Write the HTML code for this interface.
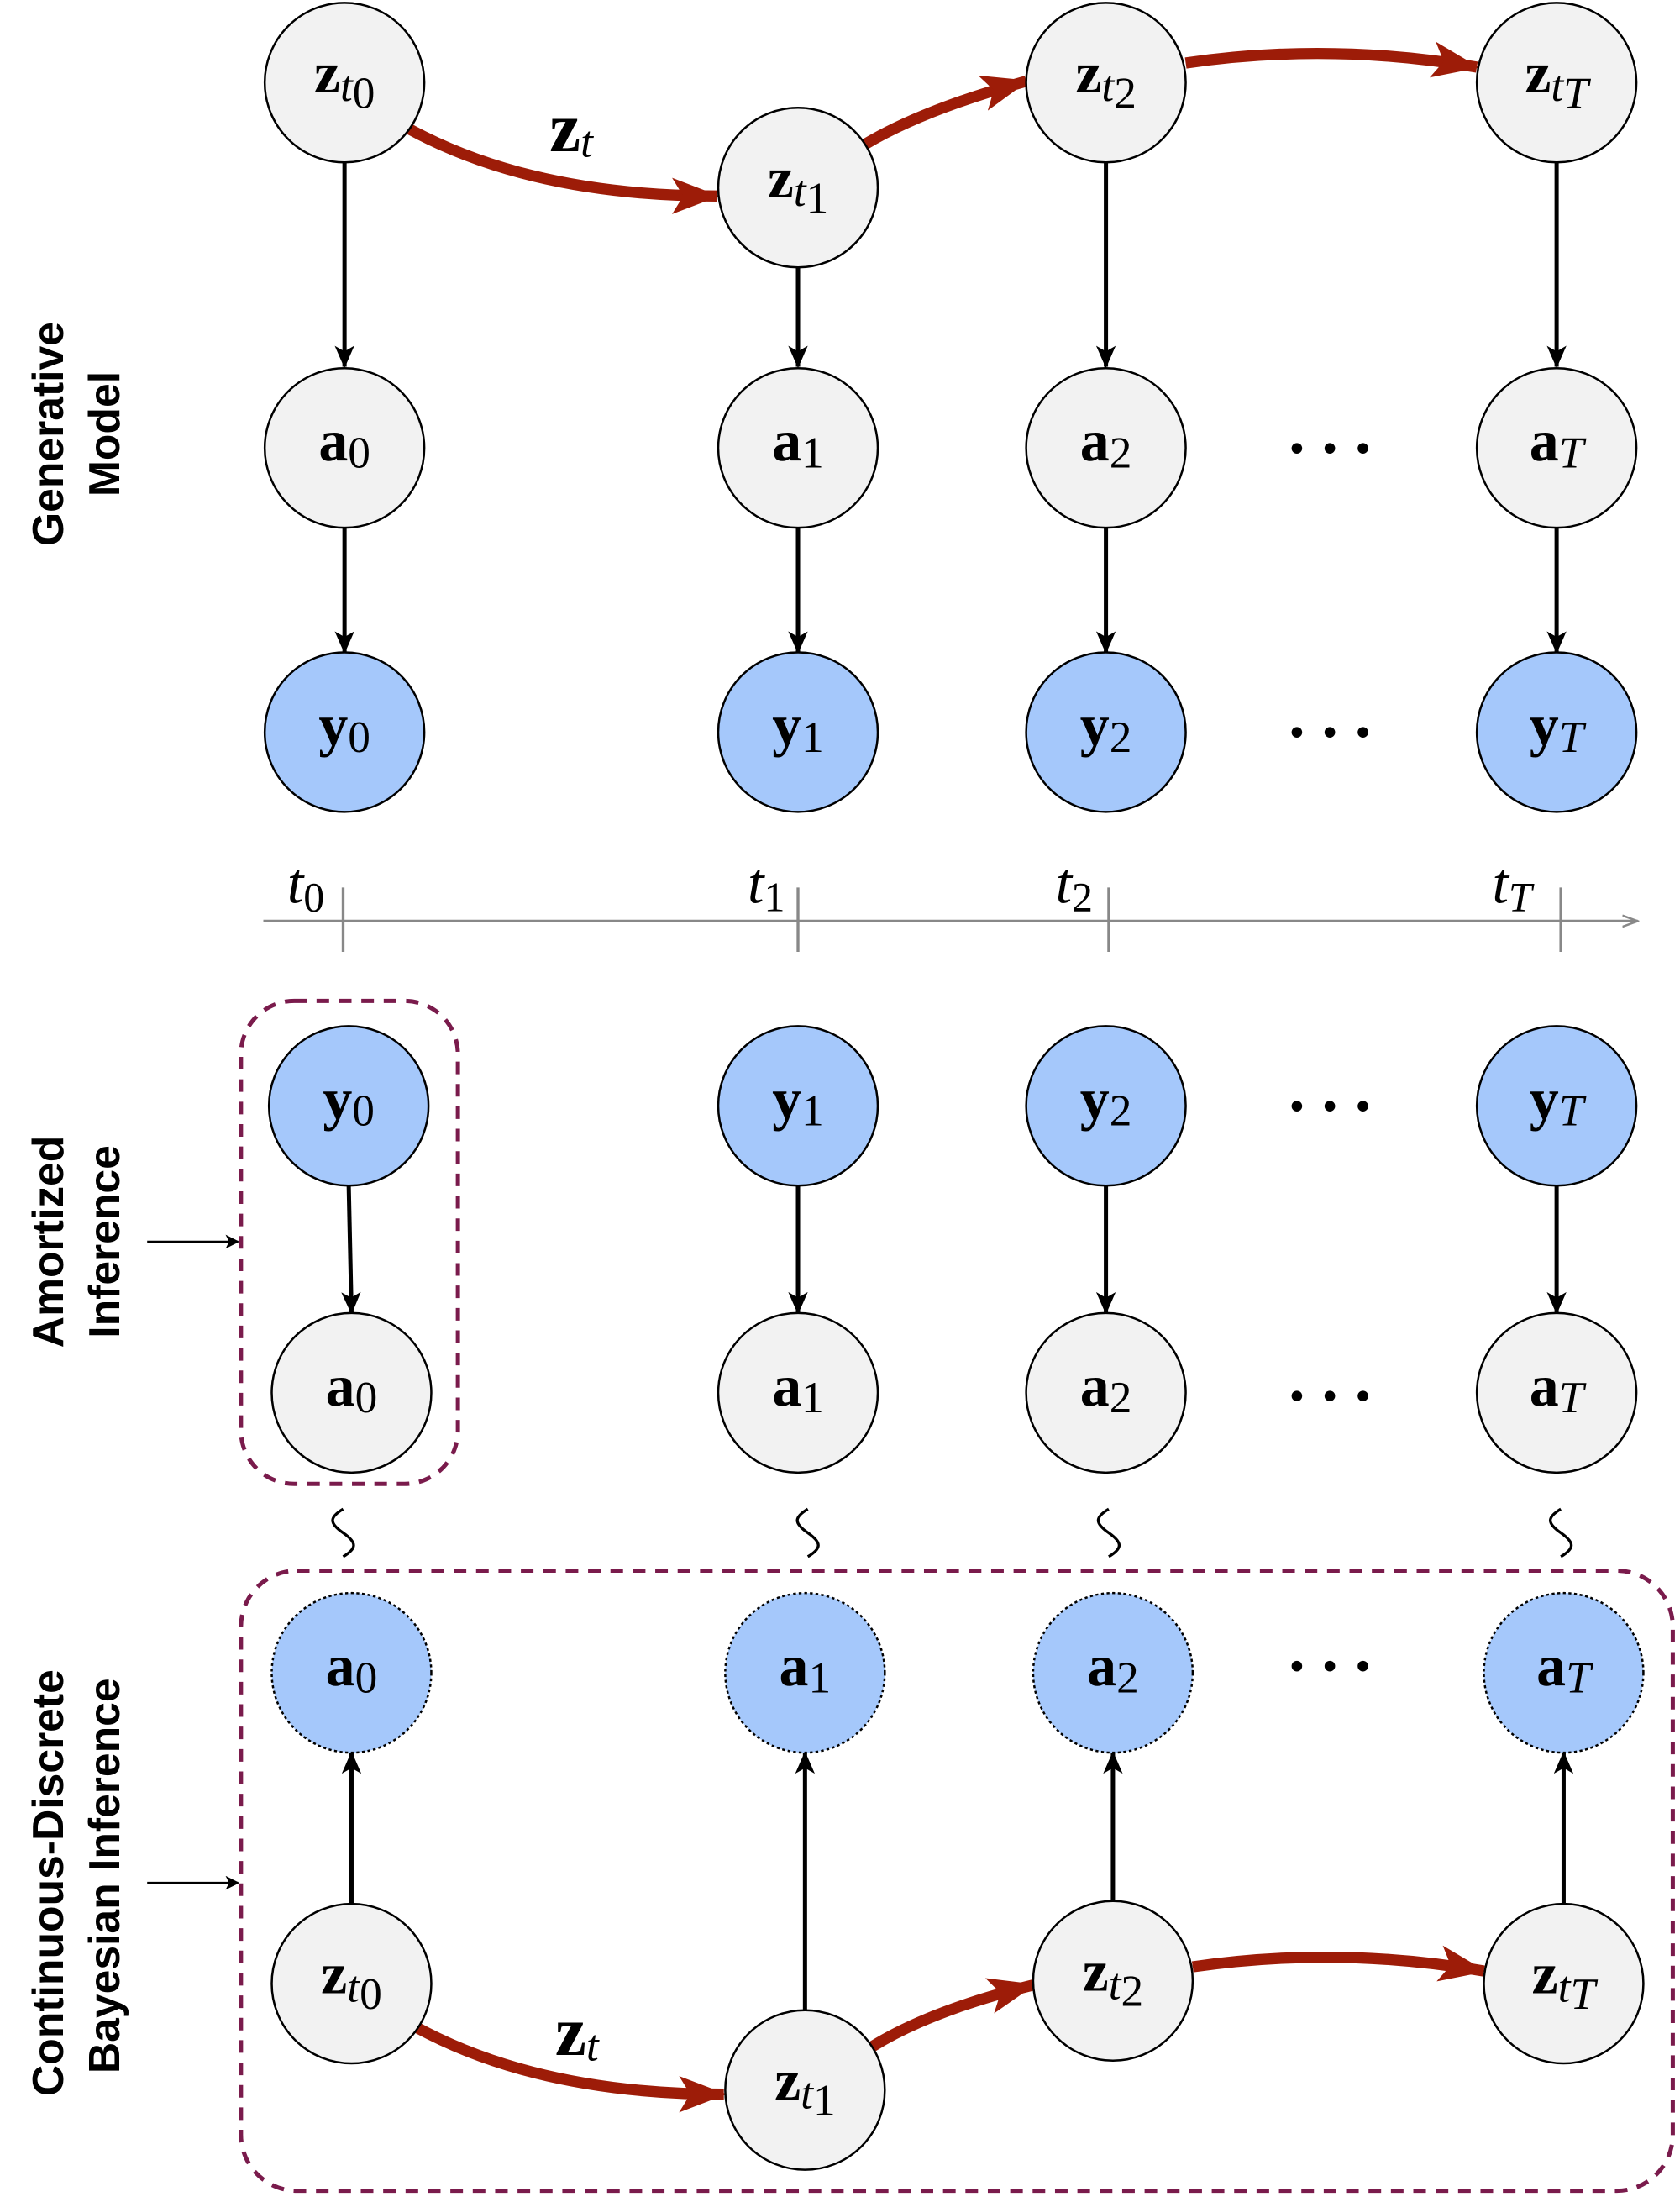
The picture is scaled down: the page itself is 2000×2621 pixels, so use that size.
<!DOCTYPE html>
<html><head><meta charset="utf-8"><style>
html,body{margin:0;padding:0;background:#fff}
svg{display:block}
.m{font-family:"Liberation Serif",serif;font-weight:bold;font-size:42px}
.s{font-family:"Liberation Serif",serif;font-style:italic;font-weight:normal;font-size:32px}
.n{font-family:"Liberation Serif",serif;font-style:normal;font-weight:normal;font-size:32px}
.lab{font-family:"Liberation Sans",sans-serif;font-size:31px;font-weight:bold}
</style></head><body>
<svg width="2000" height="2621" viewBox="0 0 1200 1573" xmlns="http://www.w3.org/2000/svg">
<defs>
<marker id="ab" markerWidth="10" markerHeight="10" refX="9" refY="5" orient="auto" markerUnits="userSpaceOnUse" viewBox="0 0 10 10"><path d="M0,0 L10,5 L0,10 L2.5,5 Z" fill="#000"/></marker>
<marker id="ar" markerWidth="34" markerHeight="26" refX="32" refY="13" orient="auto" markerUnits="userSpaceOnUse"><path d="M0,0 L34,13 L0,26 L8,13 Z" fill="#9d1c08"/></marker>
<marker id="ag" markerWidth="12" markerHeight="10" refX="11" refY="5" orient="auto" markerUnits="userSpaceOnUse"><path d="M0,1 L11,5 L0,9" fill="none" stroke="#888" stroke-width="1.5"/></marker>
<marker id="ak" markerWidth="16" markerHeight="14" refX="15" refY="7" orient="auto" markerUnits="userSpaceOnUse"><path d="M0,0 L16,7 L0,14 L4,7 Z" fill="#000"/></marker>
</defs>
<g stroke="#000" stroke-width="3" fill="none">
<line x1="246" y1="116" x2="246" y2="262" marker-end="url(#ak)"/>
<line x1="246" y1="377" x2="246" y2="466" marker-end="url(#ak)"/>
<line x1="570" y1="191" x2="570" y2="262" marker-end="url(#ak)"/>
<line x1="570" y1="377" x2="570" y2="466" marker-end="url(#ak)"/>
<line x1="790" y1="116" x2="790" y2="262" marker-end="url(#ak)"/>
<line x1="790" y1="377" x2="790" y2="466" marker-end="url(#ak)"/>
<line x1="1112" y1="116" x2="1112" y2="262" marker-end="url(#ak)"/>
<line x1="1112" y1="377" x2="1112" y2="466" marker-end="url(#ak)"/>
<line x1="249" y1="847" x2="251" y2="938" marker-end="url(#ak)"/>
<line x1="570" y1="847" x2="570" y2="938" marker-end="url(#ak)"/>
<line x1="790" y1="847" x2="790" y2="938" marker-end="url(#ak)"/>
<line x1="1112" y1="847" x2="1112" y2="938" marker-end="url(#ak)"/>
<line x1="251" y1="1360" x2="251" y2="1252" marker-end="url(#ak)"/>
<line x1="575" y1="1436" x2="575" y2="1252" marker-end="url(#ak)"/>
<line x1="795" y1="1358" x2="795" y2="1252" marker-end="url(#ak)"/>
<line x1="1117" y1="1360" x2="1117" y2="1252" marker-end="url(#ak)"/>
</g>
<g stroke="#9d1c08" stroke-width="8" fill="none">
<path d="M292,92 Q380,140 512,140" marker-end="url(#ar)"/>
<path d="M618,103 Q660,78 733,58" marker-end="url(#ar)"/>
<path d="M847,45 Q950,30 1055,48" marker-end="url(#ar)"/>
<path d="M297,1448 Q385,1496 517,1496" marker-end="url(#ar)"/>
<path d="M623,1462 Q665,1436 738,1418" marker-end="url(#ar)"/>
<path d="M852,1405 Q955,1390 1060,1408" marker-end="url(#ar)"/>
</g>
<g stroke="#888" stroke-width="2">
<line x1="188" y1="658" x2="1170" y2="658" marker-end="url(#ag)"/>
<line x1="245" y1="634" x2="245" y2="680"/>
<line x1="570" y1="634" x2="570" y2="680"/>
<line x1="792" y1="634" x2="792" y2="680"/>
<line x1="1115" y1="634" x2="1115" y2="680"/>
</g>
<g font-family="Liberation Serif,serif" font-style="italic" font-size="42">
<text x="205" y="645">t<tspan font-style="normal" font-size="30" dy="6">0</tspan></text>
<text x="534" y="645">t<tspan font-style="normal" font-size="30" dy="6">1</tspan></text>
<text x="754" y="645">t<tspan font-style="normal" font-size="30" dy="6">2</tspan></text>
<text x="1066" y="645">t<tspan font-size="30" dy="6">T</tspan></text>
</g>
<rect x="172" y="715" width="155" height="345" rx="38" fill="none" stroke="#7a1b4c" stroke-width="3" stroke-dasharray="9,7"/>
<rect x="172" y="1122" width="1023" height="443" rx="40" fill="none" stroke="#7a1b4c" stroke-width="3" stroke-dasharray="9,7"/>
<g stroke="#000" stroke-width="1.5">
<g fill="#f2f2f2">
<circle cx="246" cy="59" r="57"/><circle cx="570" cy="134" r="57"/><circle cx="790" cy="59" r="57"/><circle cx="1112" cy="59" r="57"/>
<circle cx="246" cy="320" r="57"/><circle cx="570" cy="320" r="57"/><circle cx="790" cy="320" r="57"/><circle cx="1112" cy="320" r="57"/>
<circle cx="251" cy="995" r="57"/><circle cx="570" cy="995" r="57"/><circle cx="790" cy="995" r="57"/><circle cx="1112" cy="995" r="57"/>
<circle cx="251" cy="1417" r="57"/><circle cx="575" cy="1493" r="57"/><circle cx="795" cy="1415" r="57"/><circle cx="1117" cy="1417" r="57"/>
</g>
<g fill="#a5c8fb">
<circle cx="246" cy="523" r="57"/><circle cx="570" cy="523" r="57"/><circle cx="790" cy="523" r="57"/><circle cx="1112" cy="523" r="57"/>
<circle cx="249" cy="790" r="57"/><circle cx="570" cy="790" r="57"/><circle cx="790" cy="790" r="57"/><circle cx="1112" cy="790" r="57"/>
</g>
<g fill="#a5c8fb" stroke-dasharray="2,2">
<circle cx="251" cy="1195" r="57"/><circle cx="575" cy="1195" r="57"/><circle cx="795" cy="1195" r="57"/><circle cx="1117" cy="1195" r="57"/>
</g>
</g>
<g class="m" text-anchor="middle">
<text x="246" y="66">z<tspan class="s" dy="6">t</tspan><tspan class="n" font-size="22" dy="5">0</tspan></text>
<text x="570" y="141">z<tspan class="s" dy="6">t</tspan><tspan class="n" font-size="22" dy="5">1</tspan></text>
<text x="790" y="66">z<tspan class="s" dy="6">t</tspan><tspan class="n" font-size="22" dy="5">2</tspan></text>
<text x="1112" y="66">z<tspan class="s" dy="6">t</tspan><tspan class="s" font-size="22" dy="5">T</tspan></text>
<text x="251" y="1424">z<tspan class="s" dy="6">t</tspan><tspan class="n" font-size="22" dy="5">0</tspan></text>
<text x="575" y="1500">z<tspan class="s" dy="6">t</tspan><tspan class="n" font-size="22" dy="5">1</tspan></text>
<text x="795" y="1422">z<tspan class="s" dy="6">t</tspan><tspan class="n" font-size="22" dy="5">2</tspan></text>
<text x="1117" y="1424">z<tspan class="s" dy="6">t</tspan><tspan class="s" font-size="22" dy="5">T</tspan></text>
<text x="246" y="329">a<tspan class="n" dy="5">0</tspan></text>
<text x="570" y="329">a<tspan class="n" dy="5">1</tspan></text>
<text x="790" y="329">a<tspan class="n" dy="5">2</tspan></text>
<text x="1112" y="329">a<tspan class="s" dy="5">T</tspan></text>
<text x="246" y="532">y<tspan class="n" dy="5">0</tspan></text>
<text x="570" y="532">y<tspan class="n" dy="5">1</tspan></text>
<text x="790" y="532">y<tspan class="n" dy="5">2</tspan></text>
<text x="1112" y="532">y<tspan class="s" dy="5">T</tspan></text>
<text x="249" y="799">y<tspan class="n" dy="5">0</tspan></text>
<text x="570" y="799">y<tspan class="n" dy="5">1</tspan></text>
<text x="790" y="799">y<tspan class="n" dy="5">2</tspan></text>
<text x="1112" y="799">y<tspan class="s" dy="5">T</tspan></text>
<text x="251" y="1004">a<tspan class="n" dy="5">0</tspan></text>
<text x="570" y="1004">a<tspan class="n" dy="5">1</tspan></text>
<text x="790" y="1004">a<tspan class="n" dy="5">2</tspan></text>
<text x="1112" y="1004">a<tspan class="s" dy="5">T</tspan></text>
<text x="251" y="1204">a<tspan class="n" dy="5">0</tspan></text>
<text x="575" y="1204">a<tspan class="n" dy="5">1</tspan></text>
<text x="795" y="1204">a<tspan class="n" dy="5">2</tspan></text>
<text x="1117" y="1204">a<tspan class="s" dy="5">T</tspan></text>
<text x="408" y="108" font-size="50">z<tspan class="s" font-size="44" dy="4">t</tspan></text>
<text x="412" y="1468" font-size="50">z<tspan class="s" font-size="44" dy="4">t</tspan></text>
</g>
<g font-family="DejaVu Sans,sans-serif" font-size="26" text-anchor="middle">
<text x="950" y="330">• • •</text><text x="950" y="533">• • •</text>
<text x="950" y="800">• • •</text><text x="950" y="1007">• • •</text>
<text x="950" y="1200">• • •</text>
</g>
<g fill="none" stroke="#000" stroke-width="2">
<path d="M245,1078 c-10,6 -10,10 0,17 c10,7 10,11 0,17"/>
<path d="M577,1078 c-10,6 -10,10 0,17 c10,7 10,11 0,17"/>
<path d="M792,1078 c-10,6 -10,10 0,17 c10,7 10,11 0,17"/>
<path d="M1115,1078 c-10,6 -10,10 0,17 c10,7 10,11 0,17"/>
</g>
<g class="lab" text-anchor="middle">
<text transform="translate(45,310) rotate(-90)">Generative</text>
<text transform="translate(85,310) rotate(-90)">Model</text>
<text transform="translate(45,887) rotate(-90)">Amortized</text>
<text transform="translate(85,887) rotate(-90)">Inference</text>
<text transform="translate(45,1345) rotate(-90)">Continuous-Discrete</text>
<text transform="translate(85,1340) rotate(-90)">Bayesian Inference</text>
</g>
<g stroke="#000" stroke-width="1.5">
<line x1="105" y1="887" x2="170" y2="887" marker-end="url(#ab)"/>
<line x1="105" y1="1345" x2="170" y2="1345" marker-end="url(#ab)"/>
</g>
</svg>
</body></html>
